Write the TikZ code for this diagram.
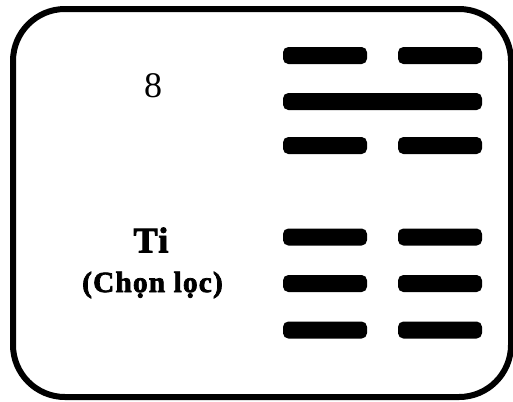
\documentclass[tikz,border=0pt]{standalone}
\usepackage{fontspec}
\setmainfont{Liberation Serif}
\newfontfamily\heavyfont{Liberation Serif Bold}[FakeBold=2.5, LetterSpace=4]
\usetikzlibrary{positioning}

\tikzset{
    bar/.style={rectangle, fill=black, inner sep=0pt, minimum height=12.75pt, rounded corners=4pt},
    yinbar/.style={bar, minimum width=63pt},
    yangbar/.style={bar, minimum width=149.25pt},
    label/.style={inner sep=0pt, font=\fontsize{27pt}{30pt}\selectfont}
}

\begin{document}
\begin{tikzpicture}[x=0.75pt, y=-0.75pt]
    \useasboundingbox (0,0) rectangle (513,401);
    \draw[line width=4.5pt, rounded corners=39pt] (13,9) rectangle (511,397);

    \node (num) [label] at (153,86) {8};
    \node (name) [label, font=\fontsize{27pt}{30pt}\heavyfont] at (151,240) {Ti};
    \node (meaning) [label, font=\fontsize{22pt}{26pt}\heavyfont] at (152.5,285) {(Chọn lọc)};

    % hexagram, top to bottom
    \node (l2) [yangbar] at (382.5,101.5) {};
    \foreach \n/\y in {1/55.5, 3/145.5, 4/237, 5/283.5, 6/330} {
        \node (l\n a) [yinbar] at (325,\y) {};
        \node (l\n b) [yinbar] at (440,\y) {};
    }
\end{tikzpicture}
\end{document}
